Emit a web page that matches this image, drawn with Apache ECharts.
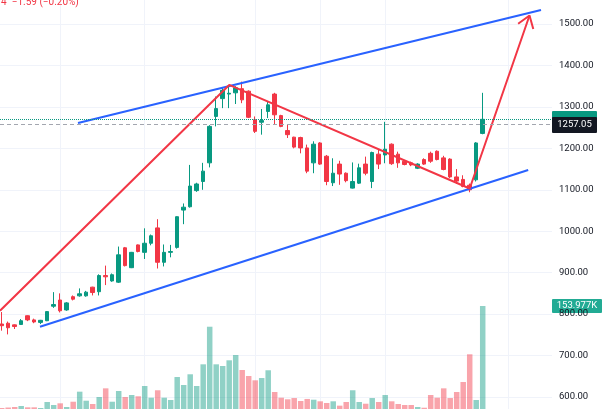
<!DOCTYPE html>
<html>
<head>
<meta charset="utf-8">
<script src="https://cdn.jsdelivr.net/npm/echarts@6/dist/echarts.min.js"></script>
<style>
  html, body { margin: 0; padding: 0; background: #fff; }
  #chart { width: 606px; height: 409px; }
</style>
</head>
<body>
<div id="chart"></div>
<script>
// candles (one per bar, index = position on the time axis)
const opens  = [776,778,774,775,796,786,780,784,819,834,810,842,844,844,865,854,893,880,877,960,912,967,949,971,1008,925,949,961,1051,1059,1098,1120,1165,1277,1320,1331,1334,1344,1338,1269,1263,1289,1331,1279,1243,1227,1226,1201,1165,1213,1181,1117,1162,1140,1104,1116,1162,1120,1186,1184,1210,1186,1169,1165,1152,1173,1188,1193,1177,1174,1131,1125,1111,1124,1236];
const closes = [772,767,770,784,786,781,785,806,823,808,827,836,849,853,852,893,890,895,943,917,949,951,971,989,925,949,951,1035,1058,1109,1114,1145,1253,1296,1340,1333,1346,1317,1275,1241,1267,1305,1281,1253,1233,1203,1201,1145,1210,1162,1120,1140,1138,1122,1120,1153,1140,1190,1162,1198,1163,1165,1161,1160,1162,1162,1169,1173,1149,1131,1121,1108,1100,1213,1270];
const lows   = [760,751,764,774,783,778,776,783,815,804,808,833,842,842,845,845,870,878,875,915,911,949,933,966,910,915,937,958,1017,1057,1095,1100,1154,1253,1297,1297,1307,1309,1273,1237,1233,1273,1257,1251,1225,1200,1188,1140,1140,1160,1111,1109,1112,1118,1103,1114,1135,1104,1150,1164,1160,1153,1159,1157,1150,1160,1165,1171,1147,1128,1114,1106,1094,1120,1234];
const highs  = [805,782,775,788,797,789,786,807,853,850,829,845,862,856,866,896,917,898,963,962,950,968,1007,992,1029,968,967,1036,1067,1160,1117,1165,1256,1325,1347,1350,1350,1361,1340,1277,1295,1312,1334,1281,1257,1228,1228,1209,1217,1215,1184,1176,1170,1142,1166,1163,1180,1192,1197,1264,1212,1192,1172,1168,1164,1176,1192,1195,1182,1176,1150,1135,1115,1215,1334];
// volume in thousands
const volumes = [1.5,2.2,3.0,4.5,2.5,2.5,1.5,10.5,6.0,8.5,3.0,10.9,25.9,12.4,7.5,17.9,30.9,10.9,26.9,17.9,20.9,19.0,34.4,16.9,28.0,16.9,13.5,47.8,35.9,51.9,34.4,66.8,123.0,66.8,64.3,72.8,80.7,58.3,49.3,42.9,46.3,57.9,25.4,16.9,14.5,16.4,12.0,15.0,13.9,11.5,9.0,11.5,5.0,10.5,28.0,10.5,7.9,16.4,10.5,20.9,11.5,7.5,6.0,6.0,3.0,1.9,20.9,16.9,30.9,16.4,25.4,40.4,81.8,13.5,153.977];

// drawings, as [bar index, price]
const redPath       = [[-0.26, 808], [35, 1353], [72, 1103], [81.2, 1520.5]];
const redArrowHead  = [[79.45, 1500.7], [81.2, 1520.5], [81.78, 1487.9]];
const upperChannel  = [[11.74, 1261], [82.97, 1534]];
const lowerChannel  = [[5.89, 769.6], [81.0, 1147.7]];

// time grid lines (bar index)
const timeGridIdx = [9, 22, 39, 49, 59, 78];

const lastPrice = 1270;
const markPrice = 1257.05;
const lastVolume = 153.977;

const UP = "#089981";
const DOWN = "#f23645";
const FONT = "Roboto, 'Liberation Sans', sans-serif";

const candleData = opens.map((o, i) => [i, o, closes[i], lows[i], highs[i]]);
const volumeData = volumes.map((v, i) => ({
  value: [i, v],
  itemStyle: { color: closes[i] >= opens[i] ? "rgba(8,153,129,0.45)" : "rgba(242,54,69,0.45)" }
}));

const chart = echarts.init(document.getElementById("chart"));

const xBase = { type: "value", min: -0.26, max: 84.66, show: false, splitLine: { show: false } };

chart.setOption({
  animation: false,
  backgroundColor: "#ffffff",
  grid: [
    { left: 0, top: -17.4, width: 552, height: 455.8, outerBoundsMode: "none", containLabel: false },
    { left: 0, top: 306, width: 552, height: 103, outerBoundsMode: "none", containLabel: false }
  ],
  xAxis: [
    Object.assign({ gridIndex: 0 }, xBase),
    Object.assign({ gridIndex: 1 }, xBase)
  ],
  yAxis: [
    {
      gridIndex: 0,
      type: "value",
      position: "right",
      min: 500,
      max: 1600,
      interval: 100,
      axisLine: { show: false },
      axisTick: { show: false },
      axisLabel: {
        color: "#131722",
        fontSize: 9.5,
        fontFamily: FONT,
        margin: 7,
        formatter: v => v.toFixed(2)
      },
      splitLine: { lineStyle: { color: "#f0f3fa", width: 1 } }
    },
    { gridIndex: 1, type: "value", min: 0, max: lastVolume, show: false, splitLine: { show: false } }
  ],
  series: [
    {
      // time grid lines
      type: "line",
      xAxisIndex: 0,
      yAxisIndex: 0,
      data: [],
      silent: true,
      markLine: {
        silent: true,
        z: 0,
        symbol: "none",
        label: { show: false },
        lineStyle: { color: "#f0f3fa", type: "solid", width: 1 },
        data: timeGridIdx.map(v => ({ xAxis: v }))
      }
    },
    {
      type: "bar",
      name: "Volume",
      xAxisIndex: 1,
      yAxisIndex: 1,
      barWidth: 5.5,
      data: volumeData,
      z: 1
    },
    {
      type: "candlestick",
      name: "Price",
      xAxisIndex: 0,
      yAxisIndex: 0,
      barWidth: 4,
      data: candleData,
      z: 3,
      itemStyle: {
        color: UP,
        color0: DOWN,
        borderColor: UP,
        borderColor0: DOWN,
        borderWidth: 1
      },
      markLine: {
        silent: true,
        symbol: "none",
        label: { show: false },
        data: [
          { yAxis: lastPrice, lineStyle: { type: "dotted", color: UP, width: 1 } },
          { yAxis: markPrice, lineStyle: { type: [4, 3], color: "#a3a6af", width: 1 } }
        ]
      }
    },
    {
      type: "line",
      xAxisIndex: 0, yAxisIndex: 0,
      data: upperChannel,
      symbol: "none",
      z: 4,
      lineStyle: { color: "#2962ff", width: 2 }
    },
    {
      type: "line",
      xAxisIndex: 0, yAxisIndex: 0,
      data: lowerChannel,
      symbol: "none",
      z: 4,
      lineStyle: { color: "#2962ff", width: 2 }
    },
    {
      type: "line",
      xAxisIndex: 0, yAxisIndex: 0,
      data: redPath,
      symbol: "none",
      z: 4,
      lineStyle: { color: DOWN, width: 2 }
    },
    {
      type: "line",
      xAxisIndex: 0, yAxisIndex: 0,
      data: redArrowHead,
      symbol: "none",
      z: 4,
      lineStyle: { color: DOWN, width: 2 }
    }
  ]
});

// price scale tags, placed through the axes
function tag(id, y, text, bg, w, h) {
  return {
    type: "group",
    id: id,
    x: 552,
    y: Math.round(y - h / 2),
    z: 20,
    children: [
      { type: "rect", shape: { x: 0, y: 0, width: w, height: h, r: 1 }, style: { fill: bg } },
      {
        type: "text",
        x: w / 2,
        y: h / 2,
        style: { text: text, fill: "#fff", font: "9.5px " + FONT, align: "center", verticalAlign: "middle" }
      }
    ]
  };
}

const yLast = chart.convertToPixel({ yAxisIndex: 0 }, lastPrice);
const yMark = chart.convertToPixel({ yAxisIndex: 0 }, markPrice);
const yVol = chart.convertToPixel({ yAxisIndex: 1 }, lastVolume);

chart.setOption({
  graphic: [
    {
      type: "text",
      id: "legend",
      x: -4.5,
      y: -2.5,
      z: 20,
      style: {
        text: "14  \u22121.59 (\u22120.20%)",
        fill: DOWN,
        font: "10px " + FONT,
        verticalAlign: "top"
      }
    },
    tag("lastTag", yLast, "", UP, 45, 16),
    tag("markTag", yMark, markPrice.toFixed(2), "#131722", 45, 16),
    tag("volTag", yVol, lastVolume.toFixed(3) + "K", "#22ab94", 50, 14)
  ]
});
</script>
</body>
</html>
